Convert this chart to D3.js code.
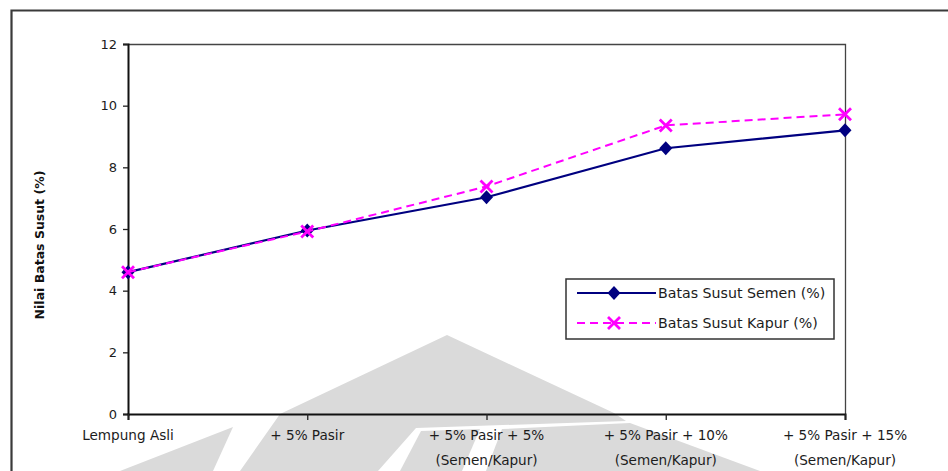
<!DOCTYPE html>
<html>
<head>
<meta charset="utf-8">
<script src="https://cdn.jsdelivr.net/npm/d3@7/dist/d3.min.js"></script>
<style>
  html, body { margin: 0; padding: 0; background: #fff; }
  svg { display: block; font-family: "DejaVu Sans", Verdana, sans-serif; }
</style>
</head>
<body>
<svg id="chart" width="948" height="471"></svg>
<script>
// Shrinkage limit (%) for each soil mix
const categories = [
  ["Lempung Asli"],
  ["+ 5% Pasir"],
  ["+ 5% Pasir + 5%", "(Semen/Kapur)"],
  ["+ 5% Pasir + 10%", "(Semen/Kapur)"],
  ["+ 5% Pasir + 15%", "(Semen/Kapur)"]
];
const semenValues = [4.6, 5.95, 7.03, 8.62, 9.2];
const kapurValues = [4.6, 5.92, 7.38, 9.36, 9.72];
const yTicks = [0, 2, 4, 6, 8, 10, 12];
const seriesNames = ["Batas Susut Semen (%)", "Batas Susut Kapur (%)"];
const yTitle = "Nilai Batas Susut (%)";

const svg = d3.select("#chart");
const W = 948, H = 471;
const plot = { left: 128, right: 845, top: 44, bottom: 414 };
const textColor = "#1c1c1c";

// Faint background emblem
const emblem = svg.append("g").attr("fill", "#dadada");
[
  [[120,471],[233,427],[213,471]],
  [[240,471],[280,414],[447,335],[614,413],[626,421],[416,428],[378,471]],
  [[400,471],[421,431],[480,429],[462,471]],
  [[486,471],[502,429],[630,423],[760,471]]
].forEach(p => emblem.append("polygon").attr("points", p.map(d => d.join(",")).join(" ")));

// Outer frame (runs off the right and bottom edges)
svg.append("path")
  .attr("d", `M11.5,${H + 5} V10.5 H${W + 5}`)
  .attr("fill", "none").attr("stroke", "#3a3a3a").attr("stroke-width", 2.2);

const labels = categories.map(c => c.join(" "));
const x = d3.scalePoint().domain(labels).range([plot.left, plot.right]);
const y = d3.scaleLinear().domain([0, 12]).range([plot.bottom, plot.top]);

// Plot area border (top and right)
svg.append("path")
  .attr("d", `M${plot.left},${plot.top + 0.5} H${plot.right + 0.5} V${plot.bottom}`)
  .attr("fill", "none").attr("stroke", "#444").attr("stroke-width", 1.3);

// Y axis
const yAxis = svg.append("g")
  .attr("transform", `translate(${plot.left},0)`)
  .call(d3.axisLeft(y).tickValues(yTicks).tickSize(5).tickPadding(6).tickFormat(d3.format("d")));
yAxis.select(".domain").attr("stroke", "#111").attr("stroke-width", 2);
yAxis.selectAll(".tick line").attr("stroke", "#222").attr("stroke-width", 1.3);
yAxis.selectAll(".tick text")
  .attr("font-family", "DejaVu Sans, sans-serif").attr("font-size", 13).attr("fill", textColor);

// X axis
const xAxis = svg.append("g")
  .attr("transform", `translate(0,${plot.bottom})`)
  .call(d3.axisBottom(x).tickSize(6).tickFormat(""));
xAxis.select(".domain").attr("stroke", "#111").attr("stroke-width", 2);
xAxis.selectAll(".tick line").attr("stroke", "#222").attr("stroke-width", 1.3);
xAxis.selectAll(".tick text").remove();

// Two-line category labels
categories.forEach((lines, i) => {
  const t = svg.append("text")
    .attr("x", x(labels[i]))
    .attr("text-anchor", "middle")
    .attr("font-size", 13.6).attr("fill", textColor);
  lines.forEach((ln, j) => {
    t.append("tspan").attr("x", x(labels[i])).attr("y", 440 + j * 25).text(ln);
  });
});

// Y axis title
svg.append("text")
  .attr("transform", `translate(44,${(plot.top + plot.bottom) / 2 + 16}) rotate(-90)`)
  .attr("text-anchor", "middle")
  .attr("font-size", 12.5).attr("font-weight", "bold").attr("fill", "#111")
  .text(yTitle);

const line = d3.line().x((d, i) => x(labels[i])).y(d => y(d));

// Semen series: solid navy with diamonds
const semenColor = "#000080";
const diamondPath = "M0,-7L6.5,0L0,7L-6.5,0Z";
svg.append("path").datum(semenValues)
  .attr("d", line).attr("fill", "none")
  .attr("stroke", semenColor).attr("stroke-width", 2.2);
svg.append("g").selectAll("path").data(semenValues).join("path")
  .attr("transform", (d, i) => `translate(${x(labels[i])},${y(d)})`)
  .attr("d", diamondPath).attr("fill", semenColor);

// Kapur series: dashed magenta with crosses
const kapurColor = "#ff00ff";
svg.append("path").datum(kapurValues)
  .attr("d", line).attr("fill", "none")
  .attr("stroke", kapurColor).attr("stroke-width", 2)
  .attr("stroke-dasharray", "8,5");
function cross(g, cx, cy, r) {
  g.append("path")
    .attr("d", `M${cx - r},${cy - r}L${cx + r},${cy + r}M${cx - r},${cy + r}L${cx + r},${cy - r}`)
    .attr("stroke", kapurColor).attr("stroke-width", 2.8).attr("fill", "none");
}
const kg = svg.append("g");
kapurValues.forEach((d, i) => cross(kg, x(labels[i]), y(d), 6));

// Legend
const lg = svg.append("g");
lg.append("rect").attr("x", 566).attr("y", 279).attr("width", 268).attr("height", 60)
  .attr("fill", "#fff").attr("stroke", "#333").attr("stroke-width", 1.5);
const rows = [293, 323];
lg.append("line").attr("x1", 577).attr("x2", 656).attr("y1", rows[0]).attr("y2", rows[0])
  .attr("stroke", semenColor).attr("stroke-width", 2.2);
lg.append("path").attr("d", diamondPath)
  .attr("transform", `translate(614,${rows[0]})`).attr("fill", semenColor);
lg.append("line").attr("x1", 577).attr("x2", 656).attr("y1", rows[1]).attr("y2", rows[1])
  .attr("stroke", kapurColor).attr("stroke-width", 2).attr("stroke-dasharray", "8,5");
cross(lg, 614, rows[1], 6);
seriesNames.forEach((n, i) => {
  lg.append("text").attr("x", 658).attr("y", rows[i] + 5)
    .attr("font-size", 14.2).attr("fill", textColor).text(n);
});
</script>
</body>
</html>
